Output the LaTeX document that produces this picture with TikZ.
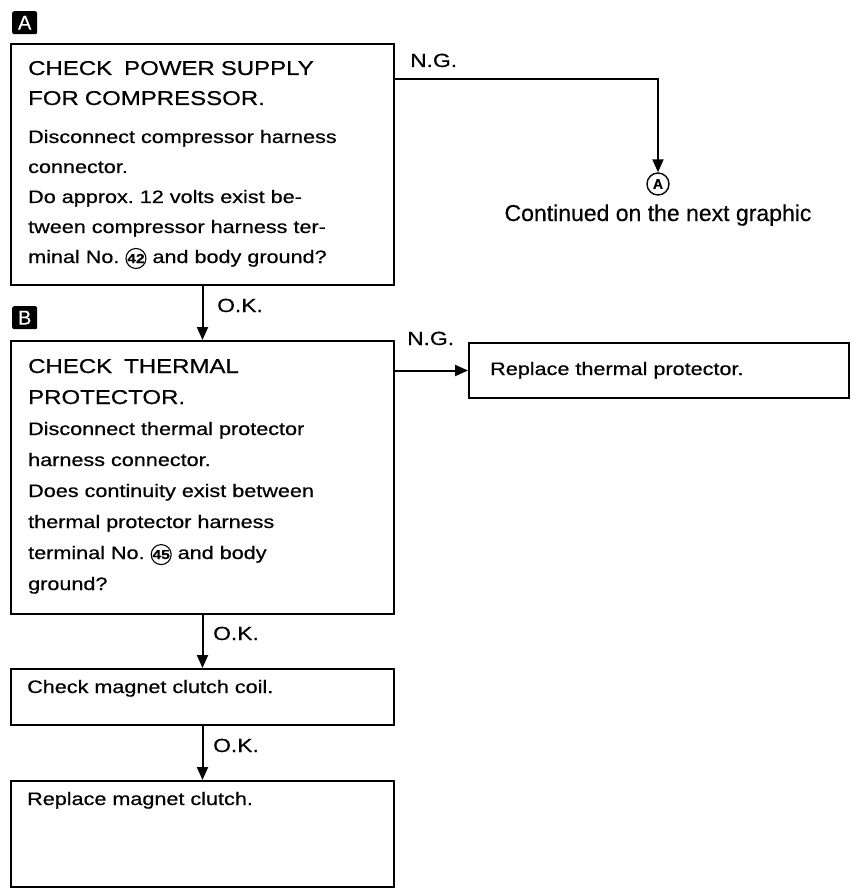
\documentclass[tikz,border=0pt]{standalone}
\usepackage{fontspec}
\setmainfont{Liberation Sans}[FakeBold=0.4]
\newfontfamily\widefont{Liberation Sans}[FakeStretch=1.2,FakeBold=0.6]
\usetikzlibrary{arrows.meta}
\newcommand\circnum[1]{\tikz[baseline=(cn.base)]\node[draw,circle,line width=1.1pt,inner sep=0pt,minimum size=20pt,font=\fontsize{13}{13}\selectfont\bfseries](cn){#1};}
\begin{document}
\begin{tikzpicture}[x=1pt,y=-1pt,
  box/.style={draw,line width=2pt,inner sep=0pt,anchor=north west},
  body/.style={anchor=base west,inner sep=0pt,align=left,text width=360pt,font=\widefont\fontsize{18}{30}\selectfont},
  flow/.style={line width=2pt,-{Triangle[length=13pt,width=11pt]}},
  lbl/.style={anchor=base west,inner sep=0pt,font=\widefont\fontsize{19}{19}\selectfont},
  tag/.style={fill=black,text=white,rounded corners=2pt,minimum width=25pt,minimum height=23pt,inner sep=0pt,anchor=north west,font=\fontsize{20}{20}\selectfont}]
\useasboundingbox (0,0) rectangle (856,888);

% tags
\node[tag] (tagA) at (12,11) {A};
\node[tag] (tagB) at (12,306) {B};

% boxes
\node[box,minimum width=383pt,minimum height=241pt] (b1) at (10,43) {};
\node[box,minimum width=383pt,minimum height=273pt] (b2) at (10,340) {};
\node[box,minimum width=380pt,minimum height=55pt] (b3) at (468,342) {};
\node[box,minimum width=383pt,minimum height=56pt] (b4) at (10,668) {};
\node[box,minimum width=383pt,minimum height=106pt] (b5) at (10,780) {};

% texts
\node[body] (t1) at (28,75) {{\fontsize{20}{30}\selectfont CHECK\ \ POWER SUPPLY\\FOR COMPRESSOR.}\\[8pt]
Disconnect compressor harness\\connector.\\Do approx.\ 12 volts exist be-\\tween compressor harness ter-\\minal No.\ \circnum{42} and body ground?};
\node[body,font=\widefont\fontsize{18}{31}\selectfont] (t2) at (28,373) {{\fontsize{20}{31}\selectfont CHECK\ \ THERMAL\\PROTECTOR.}\\
Disconnect thermal protector\\harness connector.\\Does continuity exist between\\thermal protector harness\\terminal No.\ \circnum{45} and body\\ground?};
\node[body] (t3) at (490,375) {Replace thermal protector.};
\node[body] (t4) at (27,693) {Check magnet clutch coil.};
\node[body] (t5) at (27,805) {Replace magnet clutch.};

% continuation marker
\node[circle,draw,line width=1.4pt,minimum size=22pt,inner sep=0pt,font=\bfseries\fontsize{14}{14}\selectfont] (ca) at (658,184) {A};
\node[anchor=base,inner sep=0pt,font=\fontsize{23}{23}\selectfont] (cont) at (658,221) {Continued on the next graphic};

% connectors
\draw[flow] ([yshift=-36pt]b1.north east) -| (ca.north);
\draw[flow] (b1) -- (b2);
\draw[flow] (b3.west -| b2.east) -- (b3.west);
\draw[flow] (b2) -- (b4);
\draw[flow] (b4) -- (b5);

% labels
\node[lbl] (ng1) at (410,67) {N.G.};
\node[lbl] (ok1) at (217,312) {O.K.};
\node[lbl] (ng2) at (407,345) {N.G.};
\node[lbl] (ok2) at (213,640) {O.K.};
\node[lbl] (ok3) at (213,752) {O.K.};
\end{tikzpicture}
\end{document}
